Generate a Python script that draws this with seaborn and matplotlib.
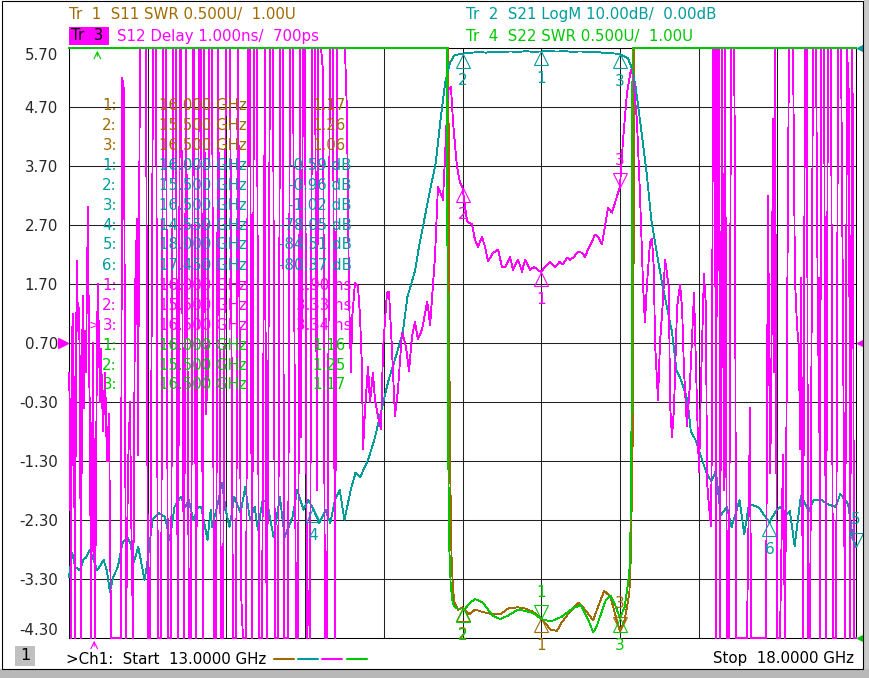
import matplotlib
matplotlib.use("Agg")
import matplotlib.pyplot as plt
from matplotlib.lines import Line2D
from matplotlib.patches import Rectangle
from matplotlib.transforms import offset_copy
import numpy as np
import pandas as pd
import seaborn as sns

BROWN = "#A06A00"
TEAL = "#009C9C"
MAGENTA = "#FF00FF"
GREEN = "#00C800"
GRID = "#202020"

# ---- Tr1 S11 SWR (U) ----
s11_freq = [13.0, 15.40, 15.405, 15.41, 15.415, 15.42, 15.43, 15.44, 15.45, 15.47,
            15.50, 15.54, 15.58, 15.63, 15.69, 15.74, 15.79, 15.85, 15.90, 15.95,
            16.00, 16.06, 16.10, 16.13, 16.18, 16.24, 16.29, 16.33, 16.36, 16.40,
            16.44, 16.48, 16.50, 16.53, 16.56, 16.57, 16.585, 16.59, 16.595, 18.0]
s11_swr = [20, 20, 20, 8.0, 4.0, 2.6, 1.7, 1.4, 1.3, 1.24,
           1.26, 1.20, 1.24, 1.22, 1.20, 1.20, 1.25, 1.26, 1.25, 1.22,
           1.17, 1.07, 1.06, 1.13, 1.22, 1.30, 1.22, 1.15, 1.26, 1.40,
           1.35, 1.15, 1.06, 1.15, 1.38, 1.70, 3.0, 6.0, 12.0, 20]

# ---- Tr4 S22 SWR (U) ----
s22_freq = [13.0, 15.395, 15.40, 15.405, 15.41, 15.415, 15.425, 15.435, 15.445, 15.46,
            15.50, 15.51, 15.55, 15.58, 15.63, 15.69, 15.74, 15.79, 15.85, 15.90,
            15.95, 16.00, 16.06, 16.13, 16.20, 16.25, 16.30, 16.33, 16.35, 16.41,
            16.44, 16.47, 16.50, 16.53, 16.555, 16.565, 16.575, 16.58, 16.585, 18.0]
s22_swr = [20, 20, 12, 4.0, 2.5, 1.8, 1.45, 1.32, 1.27, 1.25,
           1.25, 1.24, 1.30, 1.33, 1.30, 1.19, 1.16, 1.19, 1.24, 1.23,
           1.21, 1.16, 1.14, 1.18, 1.25, 1.28, 1.15, 1.05, 1.09, 1.32,
           1.36, 1.28, 1.17, 1.26, 1.50, 1.65, 3.0, 6.0, 12.0, 20]

# ---- Tr2 S21 LogM (dB) ----
s21_freq = [13.00, 13.02, 13.04, 13.07, 13.09, 13.11, 13.13, 13.15, 13.18, 13.22,
            13.24, 13.26, 13.28, 13.31, 13.34, 13.37, 13.39, 13.41, 13.44, 13.46,
            13.48, 13.50, 13.53, 13.57, 13.61, 13.64, 13.67, 13.71, 13.74, 13.76,
            13.79, 13.82, 13.84, 13.88, 13.90, 13.91, 13.95, 13.97, 14.00, 14.02,
            14.05, 14.09, 14.12, 14.15, 14.18, 14.20, 14.23, 14.26, 14.30, 14.34,
            14.37, 14.42, 14.45, 14.49, 14.52, 14.55, 14.59, 14.63, 14.66, 14.69,
            14.72, 14.75, 14.79, 14.82, 14.85, 14.88, 14.90, 14.94, 14.99, 15.03,
            15.07, 15.12, 15.15, 15.20, 15.22, 15.29, 15.33, 15.36, 15.39, 15.42,
            15.45, 15.50, 15.55, 15.60, 15.65, 15.70, 15.75, 15.80, 15.85, 15.90,
            15.95, 16.00, 16.05, 16.10, 16.15, 16.20, 16.25, 16.30, 16.35, 16.40,
            16.45, 16.50, 16.55, 16.58, 16.60, 16.63, 16.67, 16.70, 16.74, 16.77,
            16.80, 16.83, 16.86, 16.89, 16.93, 16.95, 16.98, 17.01, 17.05, 17.08,
            17.11, 17.14, 17.18, 17.21, 17.26, 17.29, 17.32, 17.38, 17.45, 17.49,
            17.52, 17.55, 17.58, 17.61, 17.65, 17.70, 17.73, 17.78, 17.82, 17.87,
            17.90, 17.95, 17.98, 18.00]
s21_db = [-89.7, -85.6, -88.0, -88.5, -86.8, -86.3, -85.1, -86.3, -88.5, -86.8,
          -88.5, -92.2, -89.7, -88.0, -83.9, -82.9, -83.9, -87.3, -84.6, -87.3,
          -90.2, -86.8, -80.0, -78.8, -79.5, -83.4, -77.8, -76.1, -77.8, -76.6,
          -80.0, -77.8, -77.8, -83.4, -78.3, -81.2, -76.6, -73.7, -78.8, -81.2,
          -76.1, -78.8, -74.4, -80.0, -77.8, -81.7, -76.6, -77.1, -82.9, -76.1,
          -82.9, -79.5, -74.9, -78.3, -76.6, -78.05, -80.5, -78.3, -80.5, -76.6,
          -74.9, -80.0, -74.9, -72.0, -72.7, -71.0, -69.8, -66.4, -60.8, -56.3,
          -52.9, -48.3, -42.2, -37.6, -34.2, -24.6, -19.5, -12.2, -5.9, -2.5,
          -1.2, -0.96, -0.80, -0.70, -0.78, -0.62, -0.72, -0.58, -0.66, -0.55,
          -0.64, -0.59, -0.52, -0.60, -0.54, -0.66, -0.58, -0.70, -0.68, -0.82,
          -0.90, -1.02, -1.7, -3.7, -6.6, -12.7, -21.2, -29.2, -35.6, -40.2,
          -44.1, -48.0, -54.6, -56.4, -59.7, -64.9, -66.4, -68.8, -72.0, -73.4,
          -71.7, -79.2, -77.8, -81.2, -76.6, -82.4, -77.3, -77.8, -80.37, -78.5,
          -77.8, -79.2, -78.5, -84.4, -75.9, -78.5, -76.6, -76.6, -77.3, -77.8,
          -75.6, -77.3, -83.1, -84.51]

# ---- Tr3 S12 group delay (ns); +/-9 are off-screen wraps ----
delay_freq_low = [13.000, 13.006, 13.013, 13.019, 13.025, 13.032, 13.038, 13.044, 13.051, 13.057,
                  13.064, 13.070, 13.076, 13.083, 13.089, 13.095, 13.102, 13.108, 13.114, 13.121,
                  13.127, 13.133, 13.140, 13.152, 13.165, 13.178, 13.184, 13.197, 13.203, 13.216,
                  13.229, 13.241, 13.254, 13.267, 13.286, 13.305, 13.330, 13.337, 13.349, 13.362,
                  13.375, 13.388, 13.394, 13.407, 13.419, 13.432, 13.438, 13.451, 13.489, 13.502,
                  13.515, 13.534, 13.553, 13.565, 13.585, 13.597, 13.616, 13.629, 13.648, 13.661,
                  13.680, 13.686, 13.692, 13.705, 13.712, 13.731, 13.743, 13.762, 13.775, 13.788,
                  13.794, 13.807, 13.826, 13.839, 13.851, 13.858, 13.870, 13.883, 13.889, 13.909,
                  13.921, 13.934, 13.947, 13.966, 13.978, 13.997, 14.023, 14.042, 14.061, 14.074,
                  14.093, 14.105, 14.125, 14.137, 14.150, 14.163, 14.175, 14.194, 14.207, 14.226,
                  14.245, 14.252, 14.258, 14.277, 14.296, 14.309, 14.328, 14.341, 14.360, 14.366,
                  14.391, 14.404, 14.423, 14.442, 14.455, 14.468, 14.474, 14.487, 14.499, 14.512,
                  14.518, 14.531, 14.544, 14.563, 14.576, 14.582, 14.601, 14.614, 14.626, 14.639,
                  14.658, 14.677, 14.690, 14.703, 14.722, 14.753, 14.766, 14.779, 14.792, 14.798,
                  14.817, 14.836, 14.849, 14.861, 14.868, 14.881, 14.900, 14.912, 14.931, 14.944,
                  14.963, 14.982, 14.995, 15.020, 15.033, 15.052, 15.071, 15.090, 15.116, 15.141,
                  15.160, 15.179, 15.198, 15.217, 15.243, 15.275, 15.281]
delay_ns_low = [0.2, -0.5, -9, 0.8, 1.2, -0.6, -9, 0.5, 2.1, 0.9,
                1.3, -0.2, -9, 0.6, 1.5, -0.4, 0.9, 0.2, 1.8, 3.0,
                0.4, -0.6, -9, 0.7, -9, 0.9, 1.7, -0.3, 0.6, -0.8,
                0.2, -1.3, -0.5, -9, -9, -9, -9, 5.2, 5.0, -9,
                -1.4, -0.3, -2.0, -9, 1.5, 2.8, -1.2, 9, 9, -9,
                -9, 9, 9, -9, -9, 9, 9, -9, -9, 9,
                9, -1.0, -9, 9, 9, -9, 9, -9, -9, 9,
                9, -9, 9, 9, -9, 9, -0.5, 0.2, 9, 9,
                -9, -9, 9, -9, -9, 9, 9, -9, -9, 9,
                -3.5, -9, -9, 9, 9, -9, 9, 9, -9, -9,
                9, -2.8, -9, 9, 9, -9, -9, 9, 9, -9,
                -9, 9, 9, -9, -9, 9, -0.9, 9, 9, -9,
                -3.5, -9, 9, 9, -1.8, 9, 9, 5.3, -9, -9,
                9, 9, -9, 9, 9, 9, 4.6, 1.5, 0.2, 1.1,
                1.72, 1.66, 1.15, 0.30, -1.10, -0.42, 0.30, -0.31, 0.20, -0.26,
                -0.54, -0.76, 0.59, 1.55, 1.57, 0.59, -0.54, -0.09, 0.88, 0.64,
                0.22, 0.81, 1.06, 0.76, 0.93, 1.39, 1.32]

delay_freq_band = [15.294, 15.325, 15.344, 15.370, 15.376, 15.389, 15.408, 15.427, 15.440, 15.465,
                   15.484, 15.500, 15.529, 15.560, 15.579, 15.598, 15.624, 15.643, 15.662, 15.694,
                   15.726, 15.751, 15.770, 15.802, 15.821, 15.853, 15.878, 15.897, 15.929, 15.954,
                   16.000, 16.024, 16.056, 16.088, 16.119, 16.138, 16.164, 16.183, 16.208, 16.234,
                   16.259, 16.278, 16.297, 16.323, 16.342, 16.361, 16.386, 16.405, 16.424, 16.450,
                   16.469, 16.500, 16.520, 16.545, 16.570, 16.583, 16.608, 16.627, 16.640, 16.647,
                   16.659, 16.672, 16.691, 16.704, 16.716, 16.723, 16.742, 16.755, 16.774, 16.787,
                   16.812, 16.818, 16.831, 16.844, 16.863, 16.882, 16.895, 16.907, 16.926, 16.945,
                   16.971, 16.990, 16.996, 17.003, 17.015, 17.034, 17.047, 17.053, 17.066, 17.079]
delay_ns_band = [1.0, 2.16, 3.35, 3.18, 3.13, 3.86, 4.99, 5.04, 4.43, 3.69,
                 3.42, 3.33, 2.76, 2.71, 2.45, 2.33, 2.50, 2.33, 2.08, 2.23,
                 2.28, 1.99, 1.98, 2.16, 1.94, 2.11, 1.91, 2.11, 1.94, 1.99,
                 1.90, 1.99, 2.08, 1.99, 2.08, 2.03, 2.15, 2.11, 2.16, 2.25,
                 2.23, 2.16, 2.28, 2.42, 2.54, 2.50, 2.37, 2.67, 2.99, 2.91,
                 3.08, 3.34, 4.14, 4.94, 5.33, 5.24, 4.48, 3.26, 2.27, 1.69,
                 1.05, 1.69, 2.40, 2.47, 1.94, 0.71, -0.26, 0.71, 1.44, 2.11,
                 1.62, -0.32, -0.90, -0.39, 1.30, 1.69, 1.30, 0.25, -0.71, 0.00,
                 1.55, -0.39, -0.97, -1.49, 0.00, 1.88, 1.30, -1.63, -2.07, -2.40]

delay_freq_high = [17.085, 17.091, 17.104, 17.111, 17.117, 17.130, 17.136, 17.149, 17.161, 17.168,
                   17.180, 17.193, 17.206, 17.225, 17.231, 17.238, 17.263, 17.307, 17.327, 17.333,
                   17.346, 17.365, 17.390, 17.416, 17.428, 17.441, 17.454, 17.460, 17.473, 17.479,
                   17.485, 17.498, 17.517, 17.536, 17.549, 17.574, 17.587, 17.600, 17.612, 17.625,
                   17.638, 17.644, 17.651, 17.663, 17.676, 17.689, 17.695, 17.708, 17.727, 17.746,
                   17.759, 17.765, 17.771, 17.778, 17.797, 17.809, 17.822, 17.841, 17.854, 17.873,
                   17.886, 17.905, 17.917, 17.930, 17.943, 17.956, 17.962, 17.975, 17.981, 17.987,
                   18.000]
delay_ns_high = [-0.65, 9, 9, -9, 9, 9, -9, 9, -1.8, 9,
                 -9, -9, 9, 9, 3.8, -9, -9, -9, -0.4, -9,
                 -9, -9, -9, -9, -9, 3.2, -1.5, -0.6, 4.5, 0.2,
                 9, -9, -9, -1.2, -9, 9, 9, 9, 1.8, 1.0,
                 0.6, -1.1, 1.8, -9, 9, 9, -9, -9, 9, 9,
                 0.5, 1.8, -9, 9, 9, -9, 9, 9, -9, -9,
                 9, 9, 1.3, -9, 9, 4.8, -9, 9, 4.3, -9,
                 -9]

# ---- marker readouts ----
s11_mk_freq = [16.0, 15.5, 16.5]
s11_mk_val = [1.17, 1.26, 1.06]
s21_mk_freq = [16.0, 15.5, 16.5, 14.55, 18.0, 17.45]
s21_mk_val = [-0.59, -0.96, -1.02, -78.05, -84.51, -80.37]
s12_mk_freq = [16.0, 15.5, 16.5]
s12_mk_val = [1.90, 3.33, 3.34]
s22_mk_freq = [16.0, 15.5, 16.5]
s22_mk_val = [1.16, 1.25, 1.17]

y_ticks = [5.70, 4.70, 3.70, 2.70, 1.70, 0.70, -0.30, -1.30, -2.30, -3.30, -4.30]
YTOP, YBOT = 5.70, -4.30


def swr_disp(v):
    # 0.500 U/div, 1.00 U at the bottom line
    return np.clip(YBOT + (np.asarray(v, dtype=float) - 1.0) / 0.5, YBOT, YTOP)


def db_disp(v):
    # 10 dB/div, 0 dB at the top line
    return np.clip(YTOP + np.asarray(v, dtype=float) / 10.0, YBOT, YTOP)


def delay_disp(v):
    # 1 ns/div, 700 ps at the 0.70 line
    return np.clip(np.asarray(v, dtype=float), YBOT, YTOP)


sns.set_theme(style="white")
plt.rcParams["font.family"] = ["DejaVu Sans"]
plt.rcParams["axes.unicode_minus"] = False

W, H = 870, 678
FS = 10.8
fig = plt.figure(figsize=(W / 100, H / 100), dpi=100)
fig.patch.set_facecolor("white")
ax = fig.add_axes([69 / W, 1 - 638 / H, (856 - 69) / W, (638 - 48) / H])
ax.set_facecolor("white")


def fx(x):
    return x / W


def fy(y):
    return 1 - y / H


traces = [
    (s11_freq, swr_disp(s11_swr), BROWN, 3.0),
    (s21_freq, db_disp(s21_db), TEAL, 3.1),
    (delay_freq_low + delay_freq_band + delay_freq_high,
     delay_disp(delay_ns_low + delay_ns_band + delay_ns_high), MAGENTA, 3.2),
    (s22_freq, swr_disp(s22_swr), GREEN, 3.3),
]
for freq, disp, color, z in traces:
    df = pd.DataFrame({"freq": freq, "disp": disp})
    sns.lineplot(data=df, x="freq", y="disp", ax=ax, color=color, linewidth=0.6,
                 estimator=None, sort=False, legend=False)
    line = ax.lines[-1]
    line.set_clip_on(False)
    line.set_zorder(z)
    line.set_antialiased(False)

ax.set_xlim(13.0, 18.0)
ax.set_ylim(YBOT, YTOP)
ax.set_xticks(np.arange(13.0, 18.001, 0.5))
ax.set_yticks(y_ticks)
ax.set_xticklabels([])
ax.set_yticklabels([f"{v:.2f}" for v in y_ticks], fontsize=FS)
ax.tick_params(length=0, pad=8)
labels = ax.get_yticklabels()
labels[0].set_va("top")
labels[-1].set_va("bottom")
ax.grid(True, color=GRID, linewidth=0.75)
ax.set_xlabel("")
ax.set_ylabel("")
for sp in ax.spines.values():
    sp.set_color("black")
    sp.set_linewidth(0.75)
    sp.set_zorder(2.5)


def marker(freq, disp, color, number, below=True, z=4):
    ms = 10
    sign = -1 if below else 1
    tri = offset_copy(ax.transData, fig=fig, x=0, y=sign * ms / 2, units="points")
    ax.plot([freq], [disp], marker="^" if below else "v", ms=ms, mfc="none", mec=color,
            mew=0.8, transform=tri, clip_on=False, zorder=z, ls="none")
    lab = offset_copy(ax.transData, fig=fig, x=0, y=sign * 19.5, units="points")
    ax.text(freq, disp, str(number), color=color, fontsize=11, ha="center", va="center",
            transform=lab, zorder=z)


for i, (f, v) in enumerate(zip(s11_mk_freq, s11_mk_val)):
    marker(f, swr_disp(v), BROWN, i + 1, below=(i != 2), z=4.0)
for i, (f, v) in enumerate(zip(s21_mk_freq, s21_mk_val)):
    marker(f, db_disp(v), TEAL, i + 1, below=(i != 4), z=4.1)
for i, (f, v) in enumerate(zip(s12_mk_freq, s12_mk_val)):
    marker(f, delay_disp(v), MAGENTA, i + 1, below=(i != 2), z=4.2)
for i, (f, v) in enumerate(zip(s22_mk_freq, s22_mk_val)):
    marker(f, swr_disp(v), GREEN, i + 1, below=(i != 0), z=4.3)

# reference position arrows on both sides
left_ref = offset_copy(ax.transData, fig=fig, x=-4, y=0, units="points")
ax.plot([13.0], [0.70], marker=">", ms=7, color=MAGENTA, transform=left_ref, clip_on=False, ls="none")
right_ref = offset_copy(ax.transData, fig=fig, x=4, y=0, units="points")
for ref, col in [(YTOP, TEAL), (0.70, MAGENTA), (YBOT, GREEN)]:
    ax.plot([18.0], [ref], marker="<", ms=7, color=col, transform=right_ref, clip_on=False, ls="none")

ax.annotate("", xy=(13.18, YTOP), xytext=(0, -8), textcoords="offset points",
            arrowprops=dict(arrowstyle="->", color=GREEN, lw=0.8), annotation_clip=False)
ax.annotate("", xy=(13.16, YBOT), xytext=(0, -8), textcoords="offset points",
            arrowprops=dict(arrowstyle="->", color=MAGENTA, lw=0.8), annotation_clip=False)

# marker readout table
rows = []
for i, (f, v) in enumerate(zip(s11_mk_freq, s11_mk_val)):
    rows.append((i + 1, f, f"{v:.2f}", BROWN, 346))
for i, (f, v) in enumerate(zip(s21_mk_freq, s21_mk_val)):
    rows.append((i + 1, f, f"{v:.2f} dB", TEAL, 352))
for i, (f, v) in enumerate(zip(s12_mk_freq, s12_mk_val)):
    rows.append((i + 1, f, f"{v:.2f} ns", MAGENTA, 352))
for i, (f, v) in enumerate(zip(s22_mk_freq, s22_mk_val)):
    rows.append((i + 1, f, f"{v:.2f}", GREEN, 346))
for r, (num, f, val, col, xr) in enumerate(rows):
    yy = fy(105 + 20 * r)
    fig.text(fx(117), yy, f"{num}:", color=col, fontsize=FS, ha="right", va="center", zorder=6)
    fig.text(fx(159), yy, f"{f:.3f} GHz", color=col, fontsize=FS, ha="left", va="center", zorder=6)
    fig.text(fx(xr), yy, val, color=col, fontsize=FS, ha="right", va="center", zorder=6)
fig.text(fx(89), fy(105 + 20 * 11), ">", color=MAGENTA, fontsize=9, ha="left", va="center", zorder=6)

# trace header
fig.text(fx(69), fy(14), "Tr  1  S11 SWR 0.500U/  1.00U", color=BROWN, fontsize=FS, va="center")
fig.patches.append(Rectangle((fx(69), fy(45)), 40 / W, 18 / H, transform=fig.transFigure,
                             facecolor=MAGENTA, edgecolor="none"))
fig.text(fx(71), fy(36), "Tr  3", color="black", fontsize=FS, va="center")
fig.text(fx(117), fy(36), "S12 Delay 1.000ns/  700ps", color=MAGENTA, fontsize=FS, va="center")
fig.text(fx(466), fy(14), "Tr  2  S21 LogM 10.00dB/  0.00dB", color=TEAL, fontsize=FS, va="center")
fig.text(fx(466), fy(36), "Tr  4  S22 SWR 0.500U/  1.00U", color=GREEN, fontsize=FS, va="center")

# footer
fig.patches.append(Rectangle((fx(15), fy(666)), 20 / W, 20 / H, transform=fig.transFigure,
                             facecolor="#C0C0C0", edgecolor="none"))
fig.text(fx(25), fy(656), "1", color="black", fontsize=11.5, ha="center", va="center")
fig.text(fx(66), fy(659), ">Ch1:  Start  13.0000 GHz", color="black", fontsize=FS, va="center")
for x0, col in [(274, BROWN), (298, TEAL), (322, MAGENTA), (347, GREEN)]:
    fig.lines.append(Line2D([fx(x0), fx(x0 + 20)], [fy(659), fy(659)], transform=fig.transFigure,
                            color=col, linewidth=1.5))
fig.text(fx(854), fy(659), "Stop  18.0000 GHz", color="black", fontsize=FS, ha="right", va="center")

# window frame
fig.patches.append(Rectangle((fx(864), 0), 6 / W, 1, transform=fig.transFigure,
                             facecolor="#C8C8C8", edgecolor="none"))
fig.patches.append(Rectangle((0, 0), 1, 9 / H, transform=fig.transFigure,
                             facecolor="#B8B8B8", edgecolor="none"))
fig.patches.append(Rectangle((fx(2.5), fy(668.5)), 861 / W, 668 / H, transform=fig.transFigure,
                             facecolor="none", edgecolor="black", linewidth=0.8))

fig.savefig("out.png", dpi=100, facecolor="white")
plt.close(fig)
